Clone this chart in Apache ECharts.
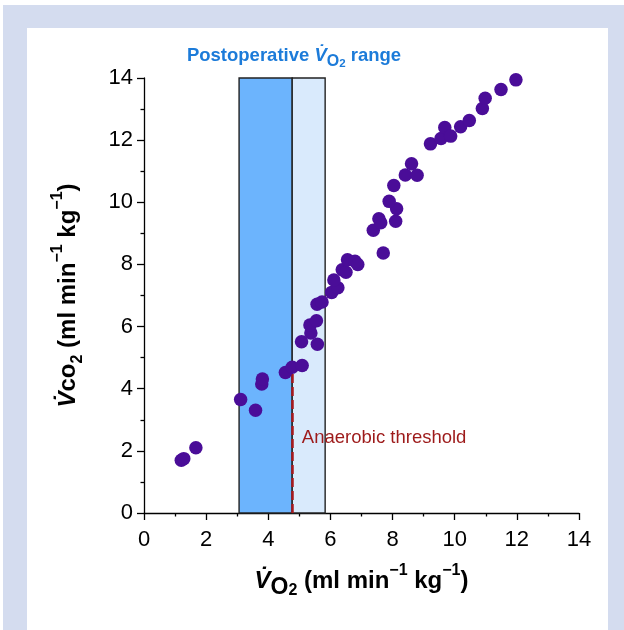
<!DOCTYPE html>
<html>
<head>
<meta charset="utf-8">
<script src="https://cdn.jsdelivr.net/npm/echarts@6/dist/echarts.min.js"></script>
<style>html,body{margin:0;padding:0;background:#fff}#c{width:624px;height:630px}</style>
</head>
<body>
<div id="c"></div>
<script>
// Data
const vo2 = [1.20,1.28,1.67,3.11,3.59,3.79,3.81,4.55,4.77,5.09,5.07,5.58,5.37,5.34,5.55,5.57,5.73,6.04,6.24,6.11,6.38,6.50,6.55,6.79,6.88,7.70,7.38,7.56,7.62,8.10,8.13,7.89,8.04,8.41,8.61,8.79,9.22,9.56,9.68,9.87,10.19,10.47,10.89,10.98,11.49,11.97];
const vco2 = [1.70,1.75,2.10,3.65,3.31,4.15,4.31,4.52,4.69,4.75,5.51,5.43,5.79,6.05,6.19,6.72,6.79,7.10,7.25,7.50,7.83,7.75,8.15,8.10,8.00,8.37,9.10,9.47,9.34,9.39,9.79,10.03,10.54,10.88,11.24,10.87,11.88,12.05,12.41,12.13,12.43,12.63,13.02,13.35,13.63,13.94];
const postopRangeLow = [3.06, 4.77];   // darker band
const postopRangeHigh = [4.77, 5.83];  // lighter band
const bandTop = 14;
const threshold = [4.77, 4.69];        // anaerobic threshold (x, y top of line)
const thresholdLabel = [5.08, 2.41];
const xTicks = [0, 14, 2];
const yTicks = [0, 14, 2];

const FONT = '"Liberation Sans", Arial, sans-serif';
const points = vo2.map((x, i) => [x, vco2[i]]);

function base(size, extra) {
  return Object.assign({fontSize: size, fontWeight: 'bold', fontFamily: FONT, color: '#000'}, extra);
}
const xNameRich = {
  v: base(24, {fontStyle: 'italic', lineHeight: 36, verticalAlign: 'middle'}),
  n: base(24, {lineHeight: 36, verticalAlign: 'middle'}),
  s: base(23, {lineHeight: 31, verticalAlign: 'bottom'}),
  ss: base(16, {lineHeight: 4, verticalAlign: 'bottom'}),
  sup: base(16, {lineHeight: 20, verticalAlign: 'top'})
};
const yNameRich = {
  v: base(24, {fontStyle: 'italic', lineHeight: 36, verticalAlign: 'middle'}),
  n: base(24, {lineHeight: 36, verticalAlign: 'middle'}),
  s: base(24, {lineHeight: 36, verticalAlign: 'middle'}),
  ss: base(16, {lineHeight: 18, verticalAlign: 'bottom'}),
  sup: base(16, {lineHeight: 20, verticalAlign: 'top'})
};

const chart = echarts.init(document.getElementById('c'), null, {renderer: 'canvas'});
const axisLineStyle = {color: '#000', width: 1.3};
const TITLE_C = '#1c7bd9';
chart.setOption({
  animation: false,
  backgroundColor: '#fff',
  graphic: [
    {type: 'rect', z: -100, shape: {x: 3, y: 5, width: 621, height: 625}, style: {fill: '#d4dcef'}},
    {type: 'rect', z: -99, shape: {x: 27, y: 28, width: 581, height: 602}, style: {fill: '#ffffff'}},
    {type: 'text', x: 294, y: 56, style: {
      text: '{n|Postoperative }{v|V\u0307}{s|O}{ss|2}{n| range}',
      align: 'center', verticalAlign: 'middle',
      rich: {
        v: {fontSize: 18.5, fontWeight: 'bold', fontStyle: 'italic', fontFamily: FONT, fill: TITLE_C, lineHeight: 28, verticalAlign: 'middle'},
        n: {fontSize: 18.5, fontWeight: 'bold', fontFamily: FONT, fill: TITLE_C, lineHeight: 28, verticalAlign: 'middle'},
        s: {fontSize: 16, fontWeight: 'bold', fontFamily: FONT, fill: TITLE_C, lineHeight: 18, verticalAlign: 'bottom'},
        ss: {fontSize: 11.5, fontWeight: 'bold', fontFamily: FONT, fill: TITLE_C, lineHeight: 6, verticalAlign: 'bottom'}
      }
    }}
  ],
  grid: {left: 144, right: 45, top: 78, bottom: 117, outerBoundsMode: 'none'},
  xAxis: {
    type: 'value', min: xTicks[0], max: xTicks[1], interval: xTicks[2],
    name: '{v|V\u0307}{s|O}{ss|2}{n| (ml min}{sup|\u22121}{n| kg}{sup|\u22121}{n|)}',
    nameLocation: 'middle', nameGap: 50,
    nameTextStyle: {rich: xNameRich},
    axisLine: {show: true, onZero: false, lineStyle: axisLineStyle},
    axisTick: {show: true, length: 7, lineStyle: axisLineStyle},
    minorTick: {show: true, splitNumber: 2, length: 3.5, lineStyle: axisLineStyle},
    splitLine: {show: false},
    axisLabel: {fontSize: 22, color: '#000', fontFamily: FONT, margin: 16}
  },
  yAxis: {
    type: 'value', min: yTicks[0], max: yTicks[1], interval: yTicks[2],
    name: '{v|V\u0307}{s|co}{ss|2}{n| (ml min}{sup|\u22121}{n| kg}{sup|\u22121}{n|)}',
    nameLocation: 'middle', nameGap: 58,
    nameTextStyle: {rich: yNameRich},
    axisLine: {show: true, onZero: false, lineStyle: axisLineStyle},
    axisTick: {show: true, length: 7, lineStyle: axisLineStyle},
    minorTick: {show: true, splitNumber: 2, length: 3.5, lineStyle: axisLineStyle},
    splitLine: {show: false},
    axisLabel: {fontSize: 22, color: '#000', fontFamily: FONT, margin: 11}
  },
  series: [{
    type: 'scatter',
    data: points,
    symbolSize: 13.5,
    itemStyle: {color: '#4a0d98', opacity: 1},
    z: 5,
    markArea: {
      silent: true,
      z: 1,
      data: [
        [{xAxis: postopRangeLow[0], yAxis: 0, itemStyle: {color: '#6cb4fd', borderColor: '#222', borderWidth: 1.4}},
         {xAxis: postopRangeLow[1], yAxis: bandTop}],
        [{xAxis: postopRangeHigh[0], yAxis: 0, itemStyle: {color: '#d9eafc', borderColor: '#222', borderWidth: 1.4}},
         {xAxis: postopRangeHigh[1], yAxis: bandTop}]
      ]
    },
    markLine: {
      silent: true, symbol: ['none', 'none'],
      lineStyle: {color: '#a8191e', width: 2.5, type: [9, 4]},
      label: {show: false},
      data: [[{coord: [threshold[0], 0]}, {coord: [threshold[0], threshold[1]]}]]
    },
    markPoint: {
      silent: true, symbol: 'circle', symbolSize: 0,
      data: [{coord: thresholdLabel, label: {show: true, position: 'right', distance: 0, formatter: 'Anaerobic threshold', color: '#9d1a1a', fontSize: 18.5, fontFamily: FONT}}]
    }
  }]
});
</script>
</body>
</html>
